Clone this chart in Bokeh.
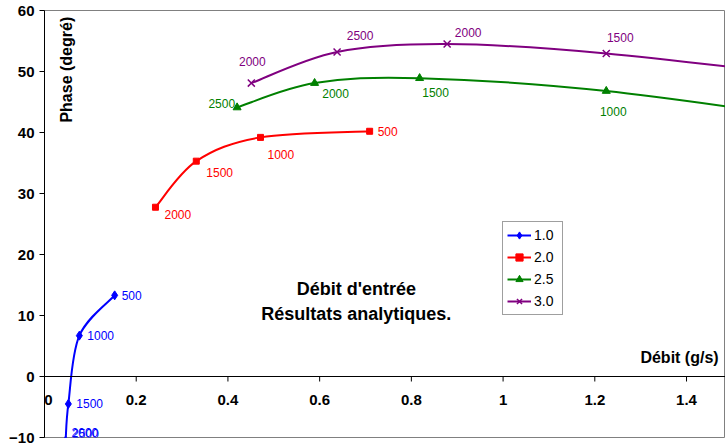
import math
from bokeh.plotting import figure
from bokeh.models import Range1d, FixedTicker, Span, Label, LabelSet, Legend, LegendItem, ColumnDataSource
from bokeh.core.properties import value
from bokeh.embed import file_html
from bokeh.resources import INLINE

# ---------------- data ----------------
x_ticks = [0, 0.2, 0.4, 0.6, 0.8, 1.0, 1.2, 1.4]
x_tick_labels = ["0", "0.2", "0.4", "0.6", "0.8", "1", "1.2", "1.4"]
y_ticks = [-10, 0, 10, 20, 30, 40, 50, 60]

series_names = ["1.0", "2.0", "2.5", "3.0"]

x_10 = [0.153, 0.076, 0.052, 0.046, 0.045]
y_10 = [13.3, 6.7, -4.5, -10.5, -10.7]
lab_10 = ["500", "1000", "1500", "2000", "2500"]

x_20 = [0.242, 0.331, 0.471, 0.709]
y_20 = [27.75, 35.3, 39.2, 40.2]
lab_20 = ["2000", "1500", "1000", "500"]

x_25 = [0.420, 0.589, 0.818, 1.225, 1.75]
y_25 = [44.1, 48.1, 48.9, 46.8, 41.5]
lab_25 = ["2500", "2000", "1500", "1000", "500"]

x_30 = [0.451, 0.638, 0.878, 1.225, 1.75]
y_30 = [48.1, 53.2, 54.5, 52.95, 48.5]
lab_30 = ["2000", "2500", "2000", "1500", "1000"]

title_1 = "Débit d'entrée"
title_2 = "Résultats analytiques."
x_title = "Débit (g/s)"
y_title = "Phase (degré)"

X_MAX = 1.485
Y_MIN, Y_MAX = -10, 60

# ---------------- styles ----------------
FONT = "Liberation Sans"
x_tick_xoff = [4, 0, 0, 0, 0, 0, 0, 0]
# label offsets in screen pixels (x right, y down)
styles = [
    dict(color="#0000FF", marker="diamond", size=9, lw=1,
         align=["left"] * 5, xo=[7, 8, 8, 6, 7], yo=[0, 0, 0, -8, -8]),
    dict(color="#FF0000", marker="square", size=6, lw=1,
         align=["left"] * 4, xo=[9, 10, 7, 8], yo=[7, 11, 17, 0]),
    dict(color="#008000", marker="triangle", size=8, lw=1,
         align=["right", "center", "center", "center", "center"],
         xo=[-2, 21, 16, 7, 7], yo=[-4, 10, 14, 20, 20]),
    dict(color="#800080", marker="x", size=10, lw=1.5,
         align=["center"] * 5, xo=[1, 23, 21, 14, 14], yo=[-22, -16, -12, -16, -16]),
]
data = [(x_10, y_10, lab_10), (x_20, y_20, lab_20), (x_25, y_25, lab_25), (x_30, y_30, lab_30)]


def bezier_ctrl(xs, ys):
    n = len(xs)
    px = [xs[0]] + list(xs) + [xs[-1]]
    py = [ys[0]] + list(ys) + [ys[-1]]
    d = dict(x0=[], y0=[], x1=[], y1=[], cx0=[], cy0=[], cx1=[], cy1=[])
    for i in range(1, n):
        d["x0"].append(px[i]); d["y0"].append(py[i])
        d["x1"].append(px[i + 1]); d["y1"].append(py[i + 1])
        d["cx0"].append(px[i] + (px[i + 1] - px[i - 1]) / 6.0)
        d["cy0"].append(py[i] + (py[i + 1] - py[i - 1]) / 6.0)
        d["cx1"].append(px[i + 1] - (px[i + 2] - px[i]) / 6.0)
        d["cy1"].append(py[i + 1] - (py[i + 2] - py[i]) / 6.0)
    return d


p = figure(width=725, height=445,
           x_range=Range1d(0, X_MAX), y_range=Range1d(Y_MIN, Y_MAX),
           x_axis_location=None,
           output_backend="svg", toolbar_location=None,
           min_border_left=44, min_border_right=0, min_border_top=10, min_border_bottom=8)
p.grid.grid_line_color = None
p.outline_line_color = "#808080"
p.outline_line_width = 1
p.background_fill_color = "white"
p.border_fill_color = "white"

# y axis
ya = p.yaxis[0]
ya.ticker = FixedTicker(ticks=y_ticks)
ya.axis_line_color = "black"
ya.major_tick_line_color = "black"
ya.major_tick_out = 5
ya.major_tick_in = 0
ya.minor_tick_line_color = None
ya.major_label_standoff = 5
ya.major_label_text_font = FONT
ya.major_label_text_font_style = "bold"
ya.major_label_text_font_size = "15px"
ya.major_label_text_color = "black"

# x axis drawn at y = 0
p.add_layout(Span(location=0, dimension="width", line_color="black", line_width=1))
p.ray(x=x_ticks, y=[0] * len(x_ticks), length=5, length_units="screen",
      angle=-math.pi / 2, line_color="black", line_width=1)
xt_src = ColumnDataSource(dict(x=x_ticks, y=[0] * len(x_ticks), t=x_tick_labels, xo=x_tick_xoff))
p.add_layout(LabelSet(x="x", y="y", text="t", source=xt_src, x_offset="xo", y_offset=-23,
                      text_align="center", text_baseline="middle",
                      text_font=value(FONT), text_font_style="bold", text_font_size="15px",
                      text_color="black"))

items = []
for (xs, ys, labs), st, name in zip(data, styles, series_names):
    bz = p.bezier(source=ColumnDataSource(bezier_ctrl(xs, ys)),
                  x0="x0", y0="y0", x1="x1", y1="y1", cx0="cx0", cy0="cy0", cx1="cx1", cy1="cy1",
                  line_color=st["color"], line_width=2)
    sc = p.scatter(xs, ys, marker=st["marker"], size=st["size"],
                   fill_color=st["color"], line_color=st["color"], line_width=st["lw"])
    for al in ("left", "center", "right"):
        # only label the points that lie inside the visible x range
        idx = [i for i, a in enumerate(st["align"]) if a == al and xs[i] <= X_MAX]
        if not idx:
            continue
        src = ColumnDataSource(dict(x=[xs[i] for i in idx], y=[ys[i] for i in idx],
                                    t=[labs[i] for i in idx],
                                    xo=[st["xo"][i] for i in idx],
                                    yo=[-st["yo"][i] for i in idx]))
        p.add_layout(LabelSet(x="x", y="y", text="t", source=src, x_offset="xo", y_offset="yo",
                              text_align=al, text_baseline="middle",
                              text_font=value(FONT), text_font_size="12px",
                              text_color=st["color"]))
    items.append(LegendItem(label=name, renderers=[bz, sc]))

legend = Legend(items=items, location=(458, 122), orientation="vertical",
                border_line_color="#404040", border_line_width=1,
                background_fill_color="white", background_fill_alpha=1,
                label_text_font=FONT, label_text_font_size="14px", label_text_color="black",
                glyph_width=24, glyph_height=18, label_height=18, label_width=24,
                label_standoff=3, spacing=4, padding=4, margin=0)
p.add_layout(legend)

p.add_layout(Label(x=0.68, y=14.4, text=title_1, text_align="center", text_baseline="middle",
                   text_font=FONT, text_font_style="bold", text_font_size="18px", text_color="black"))
p.add_layout(Label(x=0.68, y=10.3, text=title_2, text_align="center", text_baseline="middle",
                   text_font=FONT, text_font_style="bold", text_font_size="18px", text_color="black"))
p.add_layout(Label(x=1.47, y=3.1, text=x_title, text_align="right", text_baseline="middle",
                   text_font=FONT, text_font_style="bold", text_font_size="16px", text_color="black"))
p.add_layout(Label(x=0.048, y=50.3, text=y_title, angle=math.pi / 2,
                   text_align="center", text_baseline="middle",
                   text_font=FONT, text_font_style="bold", text_font_size="16px", text_color="black"))

open("out.html", "w").write(file_html(p, INLINE))
